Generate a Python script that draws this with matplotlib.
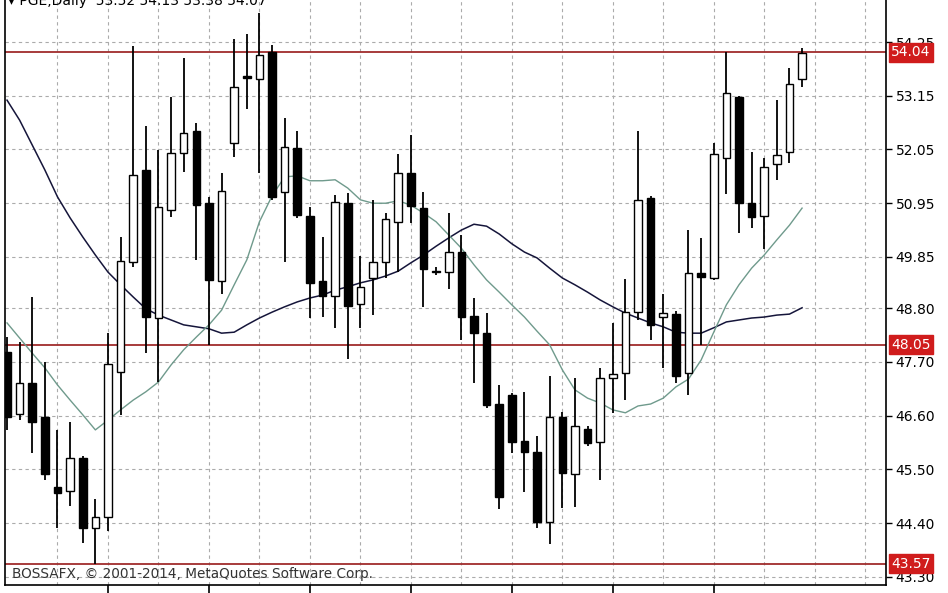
import numpy as np
import matplotlib
matplotlib.use("Agg")
import matplotlib.pyplot as plt
import matplotlib.transforms as mtransforms

# daily candles, oldest first
opens = [47.90, 46.64, 47.27, 46.57, 45.14, 45.06, 45.73, 44.30, 44.53, 47.50,
         49.75, 51.63, 48.60, 50.81, 51.98, 52.43, 50.95, 49.36, 52.18, 53.55,
         53.49, 54.04, 51.18, 52.08, 50.69, 49.36, 49.05, 50.95, 48.89, 49.42,
         49.75, 50.57, 51.57, 50.85, 49.56, 49.54, 49.95, 48.64, 48.29, 46.84,
         47.02, 46.08, 45.86, 44.43, 46.57, 45.41, 46.33, 46.06, 47.37, 47.47,
         48.72, 51.06, 48.62, 48.68, 47.47, 49.52, 49.42, 51.88, 53.12, 50.95,
         50.69, 51.75, 52.00, 53.49]
highs = [48.21, 48.11, 49.03, 47.70, 46.31, 46.47, 45.78, 44.90, 48.29, 50.26,
         54.17, 52.53, 52.04, 53.12, 53.92, 52.59, 51.08, 51.57, 54.31, 54.41,
         54.84, 54.19, 52.69, 52.43, 50.87, 50.26, 51.12, 51.16, 49.87, 51.02,
         50.75, 51.96, 52.35, 51.18, 49.64, 50.75, 50.30, 49.01, 48.70, 47.23,
         47.07, 47.09, 46.19, 47.41, 46.68, 47.37, 46.39, 47.58, 48.50, 49.40,
         52.43, 51.10, 49.09, 48.74, 50.40, 50.24, 52.18, 54.04, 53.15, 52.00,
         51.88, 53.06, 53.72, 54.12]
lows = [46.31, 46.51, 45.84, 45.28, 44.30, 44.75, 44.00, 43.57, 44.24, 46.62,
        49.64, 47.88, 47.29, 50.67, 51.59, 49.79, 48.05, 49.09, 51.90, 52.88,
        51.57, 51.02, 49.75, 50.65, 48.60, 48.62, 48.40, 47.76, 48.40, 48.66,
        49.42, 49.54, 50.55, 48.83, 49.48, 49.19, 48.15, 47.27, 46.76, 44.69,
        45.84, 45.04, 44.30, 43.97, 44.71, 44.73, 45.98, 45.28, 46.66, 46.92,
        48.56, 48.15, 47.58, 47.27, 47.02, 48.05, 49.38, 51.14, 50.34, 50.44,
        50.01, 51.43, 51.77, 53.33]
closes = [46.57, 47.27, 46.47, 45.41, 45.02, 45.73, 44.30, 44.53, 47.66, 49.77,
          51.53, 48.62, 50.87, 51.98, 52.39, 50.91, 49.38, 51.20, 53.33, 53.51,
          53.98, 51.08, 52.10, 50.71, 49.32, 49.05, 50.97, 48.85, 49.24, 49.75,
          50.63, 51.57, 50.89, 49.60, 49.54, 49.95, 48.62, 48.29, 46.82, 44.94,
          46.06, 45.86, 44.43, 46.57, 45.43, 46.39, 46.04, 47.37, 47.45, 48.72,
          51.02, 48.46, 48.70, 47.41, 49.52, 49.44, 51.96, 53.21, 50.95, 50.67,
          51.69, 51.94, 53.39, 54.02]

# moving averages as drawn on the chart
ma_fast = [48.50, 48.19, 47.88, 47.58, 47.23, 46.92, 46.62, 46.31, 46.51, 46.72,
           46.92, 47.09, 47.29, 47.64, 47.95, 48.21, 48.46, 48.76, 49.28, 49.79,
           50.57, 51.10, 51.49, 51.51, 51.41, 51.41, 51.43, 51.26, 51.02, 50.95,
           50.95, 51.00, 50.91, 50.75, 50.57, 50.30, 50.03, 49.69, 49.38, 49.13,
           48.87, 48.62, 48.33, 48.05, 47.54, 47.13, 46.96, 46.86, 46.72, 46.66,
           46.80, 46.84, 46.96, 47.19, 47.35, 47.74, 48.31, 48.87, 49.28, 49.62,
           49.89, 50.20, 50.50, 50.85]
ma_slow = [53.06, 52.65, 52.14, 51.63, 51.08, 50.65, 50.26, 49.89, 49.54, 49.28,
           49.03, 48.79, 48.66, 48.56, 48.46, 48.42, 48.38, 48.29, 48.31, 48.46,
           48.60, 48.72, 48.83, 48.93, 49.01, 49.07, 49.17, 49.24, 49.32, 49.38,
           49.46, 49.56, 49.73, 49.89, 50.07, 50.24, 50.40, 50.52, 50.48, 50.32,
           50.12, 49.95, 49.83, 49.62, 49.42, 49.28, 49.13, 48.97, 48.83, 48.70,
           48.60, 48.50, 48.42, 48.31, 48.29, 48.29, 48.40, 48.52, 48.56, 48.60,
           48.62, 48.66, 48.68, 48.81]

levels = [54.04, 48.05, 43.57]
price_ticks = [54.25, 53.15, 52.05, 50.95, 49.85, 48.80, 47.70, 46.60, 45.50, 44.40, 43.30]
header = "\u25be PGE,Daily  53.52 54.13 53.38 54.07"
footer = "BOSSAFX, \u00a9 2001-2014, MetaQuotes Software Corp."

W, H = 948, 593
fig = plt.figure(figsize=(W / 100, H / 100), dpi=100)
fig.patch.set_facecolor("white")
ax = fig.add_axes([5 / W, 8 / H, 881 / W, 585 / H])

n = len(opens)
x = np.arange(n)
ax.set_xlim(-0.16, 69.65)
ax.set_ylim(43.135, 55.11)

# grid
for gx in range(4, 69, 4):
    ax.axvline(gx, color="#ababab", lw=0.8, ls=(0, (3, 3)), zorder=0)
for p in price_ticks:
    ax.axhline(p, color="#ababab", lw=0.8, ls=(0, (3, 3)), zorder=0)

# support / resistance lines
for lv in levels:
    ax.axhline(lv, color="#a02c2c", lw=1.3, zorder=1)

# moving averages
ax.plot(x, ma_slow, color="#15153a", lw=1.1, zorder=2)
ax.plot(x, ma_fast, color="#6f9a8c", lw=1.0, zorder=2)

# candles
o = np.array(opens); c = np.array(closes)
ax.vlines(x, lows, highs, color="black", lw=1.3, zorder=3)
up = c >= o
bottom = np.minimum(o, c)
height = np.maximum(np.abs(c - o), 0.03)
ax.bar(x[up], height[up], bottom=bottom[up], width=0.6, facecolor="white",
       edgecolor="black", lw=1.0, zorder=4)
ax.bar(x[~up], height[~up], bottom=bottom[~up], width=0.6, facecolor="black",
       edgecolor="black", lw=1.0, zorder=4)

# axes styling
ax.spines["top"].set_visible(False)
for side in ("left", "right", "bottom"):
    ax.spines[side].set_color("black")
    ax.spines[side].set_linewidth(1.2)
ax.yaxis.tick_right()
ax.set_yticks(price_ticks)
ax.set_yticklabels([f"{p:.2f}" for p in price_ticks])
ax.tick_params(axis="y", direction="out", length=4, width=1, pad=3,
               labelsize=10, colors="black")
ax.set_xticks(range(8, 57, 8))
ax.set_xticklabels([])
ax.tick_params(axis="x", direction="out", length=8, width=1.2)

# level labels on the price axis
trans = mtransforms.blended_transform_factory(ax.transAxes, ax.transData)
for lv in levels:
    ax.text(1.006, lv, f"{lv:.2f}", transform=trans, ha="left", va="center",
            color="white", fontsize=10, zorder=6, clip_on=False,
            bbox=dict(boxstyle="square,pad=0.18", facecolor="#d01c1c",
                      edgecolor="#d01c1c"))

ax.text(0.008, 43.36, footer, transform=trans, ha="left", va="center",
        fontsize=9.8, color="#333333", zorder=5)
fig.text(8 / W, 0.999, header, ha="left", va="center", fontsize=10, color="black")

fig.savefig("out.png", dpi=100, facecolor="white")
